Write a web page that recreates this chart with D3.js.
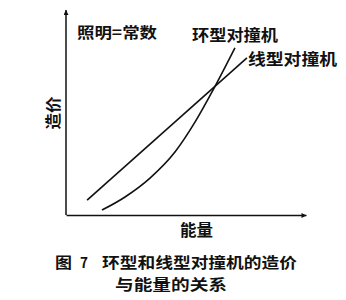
<!DOCTYPE html>
<html>
<head>
<meta charset="utf-8">
<script src="https://cdn.jsdelivr.net/npm/d3@7"></script>
<style>
  body { margin: 0; background: #fff; }
  svg text { font-family: "Noto Sans CJK SC", sans-serif; font-weight: bold; fill: #111; }
  .axis path { stroke: #111; stroke-width: 1.5; }
</style>
</head>
<body>
<svg width="346" height="300"></svg>
<script>
// energy (x) vs cost (y), arbitrary units
var linearEnergy = [0.88, 7.54];
var linearCost   = [0.73, 7.66];

var ringEnergy = [1.5, 2.46, 3.5, 4.54, 5.38, 6.13, 7.04];
var ringCost   = [0.24, 0.88, 1.8, 3.07, 4.54, 6.1, 8.15];

var seriesNames = ["环型对撞机", "线型对撞机"];
var xTitle = "能量", yTitle = "造价";
var note = "照明=常数";
var caption = ["图", "7", "环型和线型对撞机的造价", "与能量的关系"];

var svg = d3.select("svg");

var x = d3.scaleLinear().domain([0, 10]).range([66, 306]),
    y = d3.scaleLinear().domain([0, 10]).range([215, 10]);

var defs = svg.append("defs");
defs.append("marker")
    .attr("id", "arrow")
    .attr("viewBox", "0 0 10 10")
    .attr("refX", 10).attr("refY", 5)
    .attr("markerWidth", 8).attr("markerHeight", 5)
    .attr("markerUnits", "userSpaceOnUse")
    .attr("orient", "auto")
  .append("path")
    .attr("d", "M0,0L10,5L0,10z")
    .attr("fill", "#111");

// axes: plain lines with arrow heads, no ticks
var gx = svg.append("g")
    .attr("class", "axis")
    .attr("transform", "translate(0," + y(0) + ")")
    .call(d3.axisBottom(x).tickValues([]).tickSizeOuter(0));
gx.select(".domain").attr("marker-end", "url(#arrow)");

var gy = svg.append("g")
    .attr("class", "axis")
    .attr("transform", "translate(" + x(0) + ",0)")
    .call(d3.axisLeft(y).tickValues([]).tickSizeOuter(0));
// draw y domain upward so the arrow points up
gy.select(".domain")
    .attr("d", "M0," + y(0) + "V" + y(10))
    .attr("marker-end", "url(#arrow)");

var line = d3.line()
    .curve(d3.curveMonotoneX)
    .x(function(d) { return x(d[0]); })
    .y(function(d) { return y(d[1]); });

var ring = d3.zip(ringEnergy, ringCost),
    linear = d3.zip(linearEnergy, linearCost);

svg.selectAll(".curve")
  .data([ring, linear])
  .enter().append("path")
    .attr("class", "curve")
    .attr("d", line)
    .attr("fill", "none")
    .attr("stroke", "#111")
    .attr("stroke-width", 1.6);

// helper for the stretched, bold labels of the scan
function label(txt, px, py, len, size) {
  var t = svg.append("text")
      .attr("x", px).attr("y", py)
      .attr("dominant-baseline", "central")
      .style("font-size", size + "px")
      .text(txt);
  if (len) t.attr("textLength", len).attr("lengthAdjust", "spacingAndGlyphs");
  return t;
}

label(note, 77, 31, 80, 15);
label(seriesNames[0], 192, 34, 86, 16);
label(seriesNames[1], 248, 58, 89, 16);
label(xTitle, 180, 229, 33, 16);

svg.append("text")
    .attr("transform", "translate(52,113) rotate(-90)")
    .attr("text-anchor", "middle")
    .attr("dominant-baseline", "central")
    .attr("textLength", 33)
    .attr("lengthAdjust", "spacingAndGlyphs")
    .style("font-size", "16px")
    .text(yTitle);

// caption
label(caption[0], 55, 261, 17, 15);
label(caption[1], 80, 261, 8, 15);
label(caption[2], 102, 261, 195, 15);
label(caption[3], 115, 283, 112, 15);
</script>
</body>
</html>
